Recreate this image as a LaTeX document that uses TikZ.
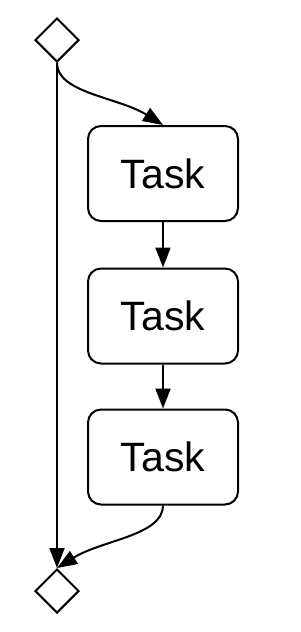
\documentclass[tikz,border=0pt]{standalone}
\usepackage{fontspec}
\setmainfont{Liberation Sans}
\usetikzlibrary{arrows.meta,shapes.geometric}

\begin{document}
\begin{tikzpicture}[
        x=1pt, y=-1pt,
        every node/.style={font=\fontsize{41}{48}\selectfont},
        task/.style={
          draw=black, line width=2pt, fill=white,
          rounded corners=13pt,
          minimum width=150pt, minimum height=95pt, align=center,
        },
        gate/.style={
          draw=black, line width=2pt, fill=white, diamond,
          minimum width=44pt, minimum height=44pt, inner sep=0pt,
        },
        flow/.style={-{Triangle[length=20pt,width=15pt]}, draw=black, line width=2pt},
      ]
      \useasboundingbox (0,0) rectangle (300,632);
      \node[gate] (gstart) at (57, 40)  {};
      \node[gate] (gend)   at (57, 591) {};
      \node[task] (task1)  at (163, 173.5) {Task};
      \node[task] (task2)  at (163, 316)   {Task};
      \node[task] (task3)  at (163, 457)   {Task};

      \draw[flow] (gstart.south) .. controls +(0,30) and +(-45,-28) .. (task1.north);
      \draw[flow] (task1) -- (task2);
      \draw[flow] (task2) -- (task3);
      \draw[flow] (task3.south) .. controls +(0,30) and +(45,-28) .. (gend.north);
      \draw[flow] (gstart.south) -- (gend.north);
    \end{tikzpicture}
\end{document}
